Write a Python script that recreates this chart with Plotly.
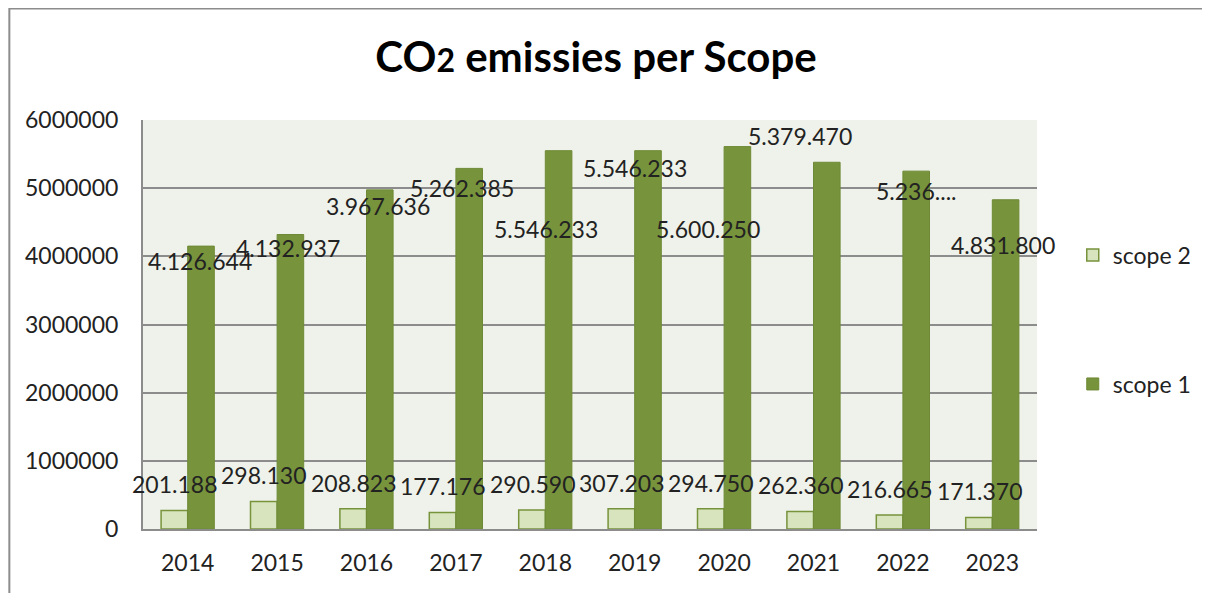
import plotly.graph_objects as go

# Data
years = ['2014', '2015', '2016', '2017', '2018', '2019', '2020', '2021', '2022', '2023']
scope2 = [272000, 404000, 297000, 243000, 278000, 297000, 297000, 258000, 205000, 170000]
scope1 = [4150000, 4320000, 4975000, 5290000, 5550000, 5550000, 5610000, 5380000, 5250000, 4830000]
scope2_labels = ['201.188', '298.130', '208.823', '177.176', '290.590',
                 '307.203', '294.750', '262.360', '216.665', '171.370']
scope1_labels = ['4.126.644', '4.132.937', '3.967.636', '5.262.385', '5.546.233',
                 '5.546.233', '5.600.250', '5.379.470', '5.236....', '4.831.800']

# label placement (px shifts from the bar top), the excel labels were dragged around
s1_dx = [-1, -2, -2, -7, -13, -13, -29, -27, 0, -3]
s1_dy = [-15, -13, -16, -20, -78, -17, -82, 26, -20, -45]
s2_dy = 26
bar_off = 13.3

dark = '#77933C'
light = '#D7E4BD'
grid = '#8C8C8C'
font = 'Lato'

# the page body adds 8px around the figure, so the figure is 8px smaller
W, H = 1202, 585

fig = go.Figure()

fig.add_trace(go.Bar(
    x=years, y=scope2, name='scope 2', legendgroup='s2',
    marker=dict(color=light, line=dict(color=dark, width=1.5)),
))
fig.add_trace(go.Bar(
    x=years, y=scope1, name='scope 1', legendgroup='s1',
    marker=dict(color=dark, line=dict(color='#6E8A36', width=1)),
))

# data labels (x as category index, otherwise '2014' is read as serial number 2014)
for i in range(len(years)):
    fig.add_annotation(x=i, y=scope2[i], text=scope2_labels[i], showarrow=False,
                       xshift=-bar_off, yshift=s2_dy, yanchor='middle',
                       font=dict(family=font, size=23, color='#222222'))
    fig.add_annotation(x=i, y=scope1[i], text=scope1_labels[i], showarrow=False,
                       xshift=bar_off + s1_dx[i], yshift=s1_dy[i], yanchor='middle',
                       font=dict(family=font, size=23, color='#222222'))

# outer chart frame
fig.add_shape(type='rect', xref='paper', yref='paper',
              x0=-0.1495, x1=1.1886, y0=-0.2, y1=1.2725,
              line=dict(color='#8C8C8C', width=2), layer='below')

fig.update_layout(
    title=dict(
        text='CO<span style="font-size:32px">2</span> emissies per Scope',
        x=0.4892, xref='container', xanchor='center',
        y=0.915, yref='container', yanchor='middle',
        font=dict(family=font, size=42, color='black', weight='bold'),
    ),
    width=W, height=H,
    margin=dict(l=135, r=173, t=112, b=64),
    paper_bgcolor='white',
    plot_bgcolor='#EFF2EA',
    barmode='group',
    bargap=0.405,
    bargroupgap=0,
    font=dict(family=font, size=23, color='#333333'),
    xaxis=dict(
        type='category', range=[-0.5, len(years) - 0.5],
        showline=True, linecolor=grid, linewidth=2,
        ticks='', ticklabelstandoff=12,
        tickfont=dict(family=font, size=23, color='#222222'),
    ),
    yaxis=dict(
        range=[0, 6000000], dtick=1000000, tickformat='d',
        showline=True, linecolor=grid, linewidth=2,
        gridcolor=grid, gridwidth=2, zeroline=False,
        ticks='', ticklabelstandoff=18,
        tickfont=dict(family=font, size=23, color='#222222'),
    ),
    legend=dict(
        x=1.040, xanchor='left', y=0.512, yanchor='middle',
        tracegroupgap=96,
        font=dict(family=font, size=23, color='#222222'),
    ),
    showlegend=True,
)

fig.write_html("out.html")
